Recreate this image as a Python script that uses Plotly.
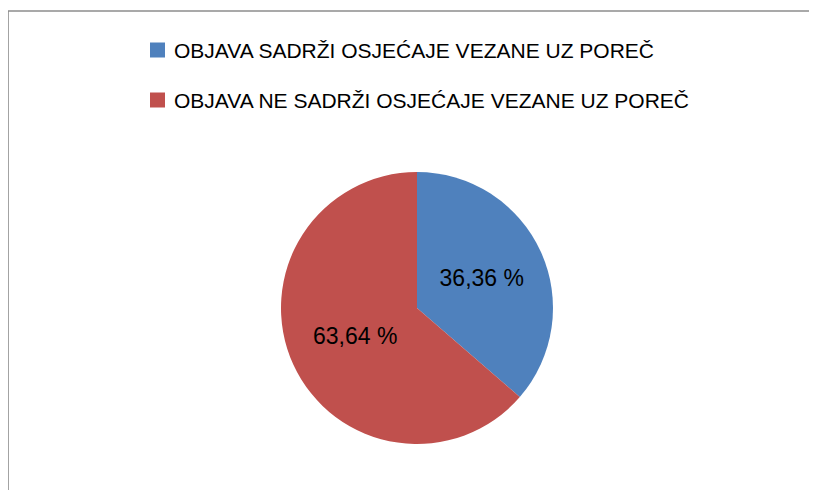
import plotly.graph_objects as go

# podaci očitani sa slike
LABELS = [
    "OBJAVA SADRŽI OSJEĆAJE VEZANE UZ POREČ",
    "OBJAVA NE SADRŽI OSJEĆAJE VEZANE UZ POREČ",
]
SHARES = [36.36, 63.64]
COLORS = ["#4F81BD", "#C0504D"]

W, H = 817, 490
PAGE_MARGIN = 8  # zadana margina <body> u pregledniku
FIG_W, FIG_H = W, H  # rubovi figure padaju izvan prozora
FONT = "Liberation Sans, Arial, sans-serif"
BORDER = "#8C8C8C"

# geometrija u pikselima prozora -> paper koordinate
PIE_CX, PIE_CY, PIE_R = 417, 308, 136
LEG_SQ_X, LEG_SQ = 150, 15
LEG_TXT_X = 172
LEG_Y = [50, 100]
FRAME_X, FRAME_Y = 8, 11


def px(x):
    return (x - PAGE_MARGIN) / FIG_W


def py(y):
    return 1 - (y - PAGE_MARGIN) / FIG_H


fig = go.Figure()
fig.add_trace(
    go.Pie(
        labels=LABELS,
        values=SHARES,
        marker=dict(colors=COLORS, line=dict(width=0)),
        sort=False,
        direction="clockwise",
        rotation=0,
        texttemplate="%{value:.2f} %",
        textposition="inside",
        insidetextorientation="horizontal",
        textfont=dict(family=FONT, size=23, color="#000000"),
        domain=dict(
            x=[px(PIE_CX) - 0.3, px(PIE_CX) + 0.3],
            y=[py(PIE_CY + PIE_R), py(PIE_CY - PIE_R)],
        ),
        showlegend=False,
        hoverinfo="label+percent",
    )
)

# ručna legenda (kvadratići + tekst)
for lab, col, ly in zip(LABELS, COLORS, LEG_Y):
    fig.add_shape(
        type="rect",
        xref="paper",
        yref="paper",
        x0=px(LEG_SQ_X),
        x1=px(LEG_SQ_X + LEG_SQ),
        y0=py(ly + LEG_SQ / 2),
        y1=py(ly - LEG_SQ / 2),
        fillcolor=col,
        line=dict(width=0),
    )
    fig.add_annotation(
        xref="paper",
        yref="paper",
        x=px(LEG_TXT_X),
        y=py(ly),
        xanchor="left",
        yanchor="middle",
        text=lab,
        showarrow=False,
        font=dict(family=FONT, size=21, color="#000000"),
    )

# okvir grafikona: vidljivi su samo gornji i lijevi rub
frame = dict(type="line", xref="paper", yref="paper",
             line=dict(color=BORDER, width=1.6))
fig.add_shape(**frame, x0=px(FRAME_X), x1=1, y0=py(FRAME_Y), y1=py(FRAME_Y))
fig.add_shape(**frame, x0=px(FRAME_X), x1=px(FRAME_X), y0=0, y1=py(FRAME_Y))

fig.update_layout(
    width=FIG_W,
    height=FIG_H,
    margin=dict(l=0, r=0, t=0, b=0),
    paper_bgcolor="#FFFFFF",
    plot_bgcolor="#FFFFFF",
    separators=",.",
    font=dict(family=FONT),
)

fig.write_html("out.html")
